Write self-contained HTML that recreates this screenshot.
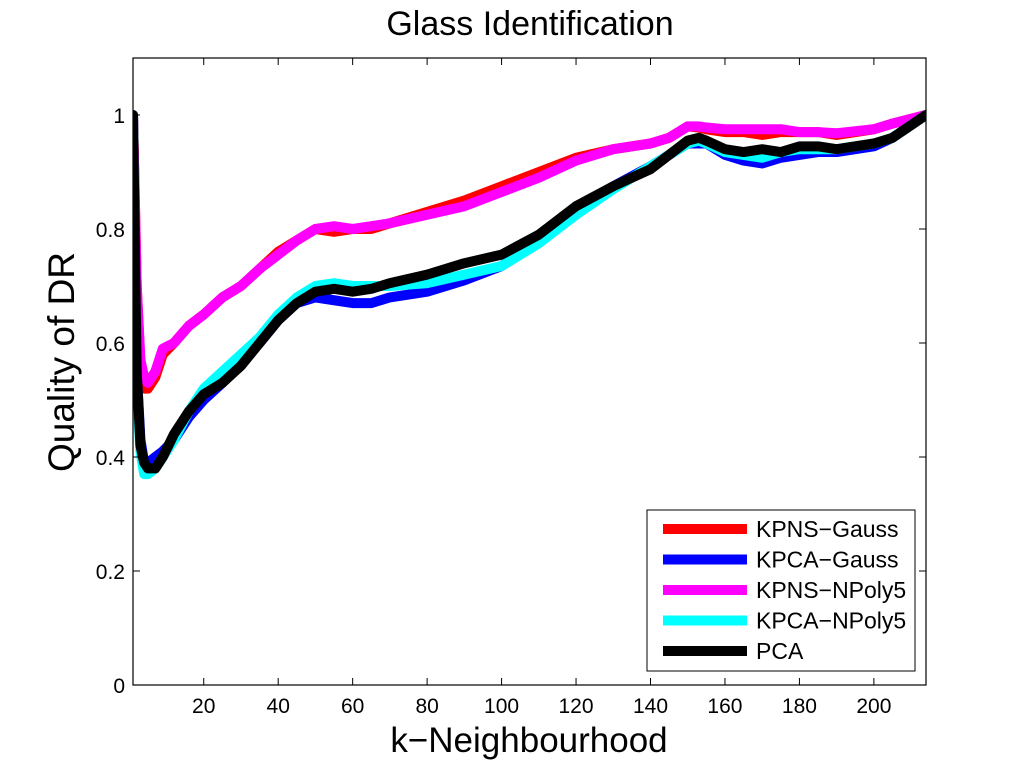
<!DOCTYPE html>
<html><head><meta charset="utf-8"><style>
html,body{margin:0;padding:0;background:#fff;}
svg{display:block;font-family:"Liberation Sans",Arial,sans-serif;}
</style></head><body>
<svg id="chart" width="1023" height="768"></svg>
<script>
const ks = [1,2,3,4,5,7,9,12,16,20,25,30,35,40,45,50,55,60,65,70,80,90,100,110,120,130,140,145,150,153,155,160,165,170,175,180,185,190,200,205,214];
const kpnsGauss = [1.0,0.7,0.56,0.52,0.52,0.54,0.58,0.6,0.63,0.65,0.68,0.7,0.73,0.76,0.78,0.8,0.795,0.8,0.8,0.81,0.83,0.85,0.875,0.9,0.925,0.94,0.95,0.96,0.98,0.978,0.975,0.97,0.97,0.965,0.97,0.97,0.97,0.965,0.975,0.985,1.0];
const kpcaGauss = [1.0,0.55,0.43,0.39,0.39,0.4,0.41,0.43,0.47,0.5,0.53,0.57,0.6,0.64,0.67,0.68,0.675,0.67,0.67,0.68,0.69,0.71,0.735,0.78,0.83,0.875,0.91,0.93,0.95,0.95,0.95,0.93,0.92,0.915,0.925,0.93,0.935,0.935,0.945,0.96,1.0];
const kpnsNPoly = [1.0,0.7,0.57,0.54,0.53,0.55,0.59,0.6,0.63,0.65,0.68,0.7,0.73,0.755,0.78,0.8,0.805,0.8,0.805,0.81,0.825,0.84,0.865,0.89,0.92,0.94,0.95,0.96,0.98,0.98,0.978,0.975,0.975,0.975,0.975,0.97,0.97,0.968,0.975,0.985,1.0];
const kpcaNPoly = [1.0,0.52,0.41,0.37,0.37,0.38,0.4,0.43,0.48,0.52,0.55,0.58,0.61,0.65,0.68,0.7,0.705,0.7,0.7,0.7,0.705,0.72,0.735,0.775,0.825,0.87,0.91,0.93,0.95,0.955,0.95,0.935,0.93,0.925,0.935,0.94,0.94,0.94,0.95,0.96,1.0];
const pca = [1.0,0.55,0.42,0.39,0.38,0.38,0.4,0.44,0.48,0.51,0.53,0.56,0.6,0.64,0.67,0.69,0.695,0.69,0.695,0.705,0.72,0.74,0.755,0.79,0.84,0.875,0.905,0.93,0.955,0.96,0.955,0.94,0.935,0.94,0.935,0.945,0.945,0.94,0.95,0.96,1.0];
const seriesNames = ["KPNS\u2212Gauss","KPCA\u2212Gauss","KPNS\u2212NPoly5","KPCA\u2212NPoly5","PCA"];
const seriesColors = ["#ff0000","#0000ff","#ff00ff","#00ffff","#000000"];
const seriesData = [kpnsGauss,kpcaGauss,kpnsNPoly,kpcaNPoly,pca];
const xTicks = [20,40,60,80,100,120,140,160,180,200];
const yTicks = [0,0.2,0.4,0.6,0.8,1];
const yTickLabels = ["0","0.2","0.4","0.6","0.8","1"];

const L=133, R=926, T=58, B=685, xMin=1, xMax=214, yMin=0, yMax=1.1;
const sx = v => L + (v - xMin) / (xMax - xMin) * (R - L);
const sy = v => B - (v - yMin) / (yMax - yMin) * (B - T);
const NS="http://www.w3.org/2000/svg";
const svg=document.getElementById('chart');
function mk(tag, attrs, parent){const e=document.createElementNS(NS,tag);for(const k in attrs)e.setAttribute(k,attrs[k]);(parent||svg).appendChild(e);return e;}

let t=mk('text',{x:530,y:35,'font-size':34,'text-anchor':'middle'});t.textContent='Glass Identification';



const gSeries=mk('g',{'clip-path':'url(#clip)'});
const cp=mk('clipPath',{id:'clip'});mk('rect',{x:L,y:T,width:R-L,height:B-T},cp);
seriesData.forEach((d,i)=>{
  const p=mk('polyline',{points:d.map((v,j)=>sx(ks[j])+','+sy(v)).join(' '),fill:'none',stroke:seriesColors[i],'stroke-width':10,'stroke-linejoin':'round','stroke-linecap':'round'},gSeries);
  
  
});

const box=mk('rect',{x:L,y:T,width:R-L,height:B-T,fill:'none',stroke:'#000','stroke-width':1.2});



xTicks.forEach(v=>{
  const x=sx(v);
  mk('line',{x1:x,y1:B,x2:x,y2:B-7,stroke:'#000'});
  mk('line',{x1:x,y1:T,x2:x,y2:T+7,stroke:'#000'});
  const tx=mk('text',{x:x,y:B+28,'font-size':21,'text-anchor':'middle'});tx.textContent=v;
  
  
});
yTicks.forEach((v,i)=>{
  const y=sy(v);
  mk('line',{x1:L,y1:y,x2:L+7,y2:y,stroke:'#000'});
  mk('line',{x1:R,y1:y,x2:R-7,y2:y,stroke:'#000'});
  const ty=mk('text',{x:L-8,y:y+8,'font-size':21,'text-anchor':'end'});ty.textContent=yTickLabels[i];
  
  
});

let xl=mk('text',{x:529,y:752,'font-size':35,'text-anchor':'middle'});xl.textContent='k\u2212Neighbourhood';


let yl=mk('text',{x:0,y:0,'font-size':37,'text-anchor':'middle',transform:'translate(74,362) rotate(-90)'});yl.textContent='Quality of DR';



const lg=mk('g',{});


mk('rect',{x:647,y:510,width:268,height:161,fill:'#fff',stroke:'#000','stroke-width':1},lg);
seriesNames.forEach((n,i)=>{
  const y=529+i*30.5;
  const e=mk('g',{},lg);
  
  
  mk('line',{x1:663,y1:y,x2:747,y2:y,stroke:seriesColors[i],'stroke-width':10},e);
  const tt=mk('text',{x:756,y:y+8,'font-size':23},e);tt.textContent=n;
});
</script>
</body></html>
